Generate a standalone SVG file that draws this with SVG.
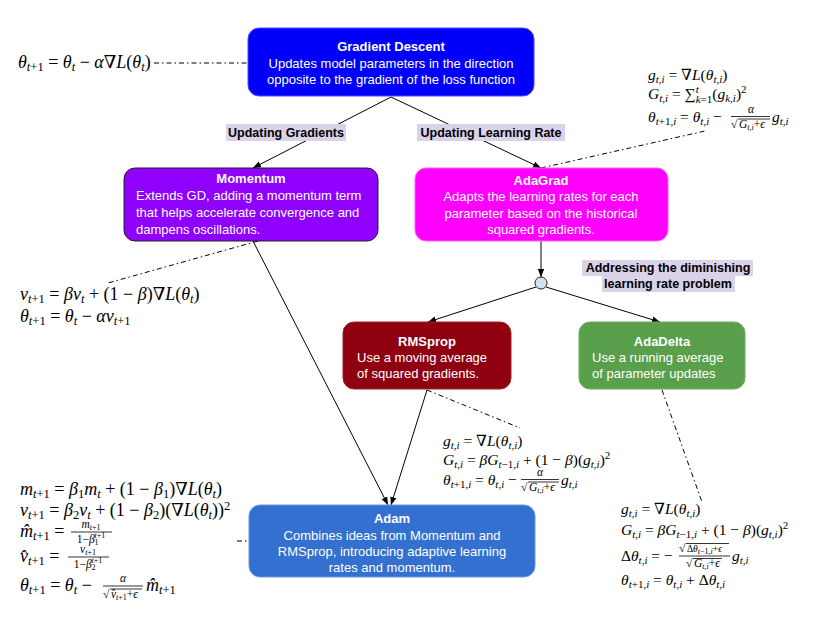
<svg xmlns="http://www.w3.org/2000/svg" width="825" height="631" viewBox="0 0 825 631">
<style>
.t{font-family:"Liberation Sans",Arial,sans-serif;font-size:13px;fill:#fff}
.b{font-weight:bold}
.lb{font-family:"Liberation Sans",Arial,sans-serif;font-size:12.5px;font-weight:bold;fill:#000}
.m{font-family:"Liberation Serif","DejaVu Serif",serif;font-size:18px;fill:#000}
.n{font-family:"Liberation Serif","DejaVu Serif",serif;font-size:15.5px;fill:#000}
.i{font-style:italic}
.s{font-size:12.5px}
.sn{font-size:11px}
.fr{font-family:"Liberation Serif","DejaVu Serif",serif;font-size:11.5px;fill:#000}
.fs{font-size:8px}
.cn{stroke:#000;stroke-width:1;fill:none}
.dd{stroke:#000;stroke-width:1;fill:none;stroke-dasharray:5 3 1.5 3}
.bar{stroke:#000;stroke-width:0.8}
</style>
<defs>
<marker id="ah" viewBox="0 0 10 10" refX="10" refY="5" markerWidth="8" markerHeight="8" markerUnits="userSpaceOnUse" orient="auto"><path d="M0,1 L10,5 L0,9 z" fill="#000"/></marker>
</defs>

<g id="connectors">
<line class="cn" x1="391" y1="97" x2="253" y2="168" marker-end="url(#ah)"/>
<line class="cn" x1="391" y1="97" x2="541" y2="168" marker-end="url(#ah)"/>
<line class="cn" x1="541" y1="241" x2="541" y2="277" marker-end="url(#ah)"/>
<line class="cn" x1="536" y1="287" x2="428" y2="322" marker-end="url(#ah)"/>
<line class="cn" x1="546" y1="287" x2="660" y2="322" marker-end="url(#ah)"/>
<line class="cn" x1="253" y1="241" x2="388" y2="505" marker-end="url(#ah)"/>
<line class="cn" x1="427" y1="390" x2="391" y2="505" marker-end="url(#ah)"/>
<line class="dd" x1="154" y1="63" x2="248" y2="63"/>
<line class="dd" x1="541" y1="168" x2="705" y2="131"/>
<line class="dd" x1="258" y1="241" x2="108" y2="283"/>
<line class="dd" x1="427" y1="390" x2="520" y2="428"/>
<line class="dd" x1="662" y1="390" x2="702" y2="502"/>
<line class="dd" x1="237" y1="541" x2="249" y2="541"/>
</g>

<g id="label-gradients">
<rect x="226" y="124" width="120" height="17" fill="#d9d2e9"/>
<text class="lb" x="286" y="137" text-anchor="middle">Updating Gradients</text>
</g>
<g id="label-lr">
<rect x="417" y="124" width="148" height="17" fill="#d9d2e9"/>
<text class="lb" x="491" y="137" text-anchor="middle">Updating Learning Rate</text>
</g>
<g id="label-dim">
<rect x="582" y="260" width="171" height="16" fill="#d9d2e9"/>
<rect x="602" y="276" width="133" height="16" fill="#d9d2e9"/>
<text class="lb" x="668" y="272" text-anchor="middle">Addressing the diminishing</text>
<text class="lb" x="668" y="288" text-anchor="middle">learning rate problem</text>
</g>

<g id="gradient-descent">
<rect x="248" y="28" width="286" height="68" rx="11" fill="#0000fa" stroke="#4a4aff"/>
<text class="t b" x="391" y="51" text-anchor="middle">Gradient Descent</text>
<text class="t" x="391" y="68" text-anchor="middle">Updates model parameters in the direction</text>
<text class="t" x="391" y="84" text-anchor="middle">opposite to the gradient of the loss function</text>
</g>

<g id="momentum">
<rect x="124" y="168" width="254" height="73" rx="11" fill="#8f00ff" stroke="#222"/>
<text class="t b" x="251" y="183" text-anchor="middle">Momentum</text>
<text class="t" x="136" y="200">Extends GD, adding a momentum term</text>
<text class="t" x="136" y="217">that helps accelerate convergence and</text>
<text class="t" x="136" y="234">dampens oscillations.</text>
</g>

<g id="adagrad">
<rect x="415" y="168" width="253" height="73" rx="11" fill="#ff00ff" stroke="#ff5cff"/>
<text class="t b" x="541" y="185" text-anchor="middle">AdaGrad</text>
<text class="t" x="541" y="201" text-anchor="middle">Adapts the learning rates for each</text>
<text class="t" x="541" y="218" text-anchor="middle">parameter based on the historical</text>
<text class="t" x="541" y="234" text-anchor="middle">squared gradients.</text>
</g>

<g id="junction">
<circle cx="541" cy="283" r="6" fill="#cfe2f3" stroke="#222"/>
</g>

<g id="rmsprop">
<rect x="343" y="322" width="168" height="67" rx="11" fill="#8f0011" stroke="#a0202a"/>
<text class="t b" x="427" y="346" text-anchor="middle">RMSprop</text>
<text class="t" x="357" y="362">Use a moving average</text>
<text class="t" x="357" y="378">of squared gradients.</text>
</g>

<g id="adadelta">
<rect x="579" y="322" width="166" height="67" rx="11" fill="#5a9f4b" stroke="#6bae5c"/>
<text class="t b" x="662" y="346" text-anchor="middle">AdaDelta</text>
<text class="t" x="592" y="362">Use a running average</text>
<text class="t" x="592" y="378">of parameter updates</text>
</g>

<g id="adam">
<rect x="249" y="505" width="286" height="72" rx="11" fill="#3370d0" stroke="#6d96dc"/>
<text class="t b" x="392" y="523" text-anchor="middle">Adam</text>
<text class="t" x="392" y="540" text-anchor="middle">Combines ideas from Momentum and</text>
<text class="t" x="392" y="556" text-anchor="middle">RMSprop, introducing adaptive learning</text>
<text class="t" x="392" y="572" text-anchor="middle">rates and momentum.</text>
</g>

<g id="formula-gd">
<text class="m" x="18" y="68"><tspan class="i">θ</tspan><tspan class="s" dy="3"><tspan class="i">t</tspan>+1</tspan><tspan dy="-3"> = </tspan><tspan class="i">θ</tspan><tspan class="s i" dy="3">t</tspan><tspan dy="-3"> − </tspan><tspan class="i">α</tspan><tspan>∇</tspan><tspan class="i">L</tspan><tspan>(</tspan><tspan class="i">θ</tspan><tspan class="s i" dy="3">t</tspan><tspan dy="-3">)</tspan></text>
</g>

<g id="formula-momentum">
<text class="m" x="20" y="300"><tspan class="i">v</tspan><tspan class="s" dy="3"><tspan class="i">t</tspan>+1</tspan><tspan dy="-3"> = </tspan><tspan class="i">βv</tspan><tspan class="s i" dy="3">t</tspan><tspan dy="-3"> + (1 − </tspan><tspan class="i">β</tspan><tspan>)∇</tspan><tspan class="i">L</tspan><tspan>(</tspan><tspan class="i">θ</tspan><tspan class="s i" dy="3">t</tspan><tspan dy="-3">)</tspan></text>
<text class="m" x="20" y="322"><tspan class="i">θ</tspan><tspan class="s" dy="3"><tspan class="i">t</tspan>+1</tspan><tspan dy="-3"> = </tspan><tspan class="i">θ</tspan><tspan class="s i" dy="3">t</tspan><tspan dy="-3"> − </tspan><tspan class="i">αv</tspan><tspan class="s" dy="3"><tspan class="i">t</tspan>+1</tspan></text>
</g>

<g id="formula-adagrad">
<text class="n" x="648" y="80"><tspan class="i">g</tspan><tspan class="sn i" dy="3">t,i</tspan><tspan dy="-3"> = ∇</tspan><tspan class="i">L</tspan><tspan>(</tspan><tspan class="i">θ</tspan><tspan class="sn i" dy="3">t,i</tspan><tspan dy="-3">)</tspan></text>
<text class="n" x="648" y="99"><tspan class="i">G</tspan><tspan class="sn i" dy="3">t,i</tspan><tspan dy="-3"> = ∑</tspan><tspan class="sn i" dy="-6">t</tspan><tspan class="sn" dx="-3" dy="10"><tspan class="i">k</tspan>=1</tspan><tspan dy="-4">(</tspan><tspan class="i">g</tspan><tspan class="sn i" dy="3">k,i</tspan><tspan dy="-3">)</tspan><tspan class="sn" dy="-6">2</tspan></text>
<text class="n" x="648" y="122"><tspan class="i">θ</tspan><tspan class="sn" dy="3"><tspan class="i">t</tspan>+1<tspan class="i">,i</tspan></tspan><tspan dy="-3"> = </tspan><tspan class="i">θ</tspan><tspan class="sn i" dy="3">t,i</tspan><tspan dy="-3"> −</tspan></text>
<text class="fr i" x="751" y="113" text-anchor="middle">α</text>
<line class="bar" x1="731" y1="116.5" x2="770" y2="116.5"/>
<text class="fr" x="731" y="128">√</text>
<line class="bar" x1="738" y1="119" x2="770" y2="119"/>
<text class="fr" x="739" y="128"><tspan class="i">G</tspan><tspan class="fs i" dy="2">t,i</tspan><tspan dy="-2">+</tspan><tspan class="i">ϵ</tspan></text>
<text class="n" x="772" y="122"><tspan class="i">g</tspan><tspan class="sn i" dy="3">t,i</tspan></text>
</g>

<g id="formula-rmsprop">
<text class="n" x="443" y="446"><tspan class="i">g</tspan><tspan class="sn i" dy="3">t,i</tspan><tspan dy="-3"> = ∇</tspan><tspan class="i">L</tspan><tspan>(</tspan><tspan class="i">θ</tspan><tspan class="sn i" dy="3">t,i</tspan><tspan dy="-3">)</tspan></text>
<text class="n" x="443" y="465"><tspan class="i">G</tspan><tspan class="sn i" dy="3">t,i</tspan><tspan dy="-3"> = </tspan><tspan class="i">βG</tspan><tspan class="sn" dy="3"><tspan class="i">t</tspan>−1<tspan class="i">,i</tspan></tspan><tspan dy="-3"> + (1 − </tspan><tspan class="i">β</tspan><tspan>)(</tspan><tspan class="i">g</tspan><tspan class="sn i" dy="3">t,i</tspan><tspan dy="-3">)</tspan><tspan class="sn" dy="-6">2</tspan></text>
<text class="n" x="443" y="485"><tspan class="i">θ</tspan><tspan class="sn" dy="3"><tspan class="i">t</tspan>+1<tspan class="i">,i</tspan></tspan><tspan dy="-3"> = </tspan><tspan class="i">θ</tspan><tspan class="sn i" dy="3">t,i</tspan><tspan dy="-3"> −</tspan></text>
<text class="fr i" x="540" y="476" text-anchor="middle">α</text>
<line class="bar" x1="521" y1="479.5" x2="559" y2="479.5"/>
<text class="fr" x="521" y="491">√</text>
<line class="bar" x1="528" y1="482" x2="559" y2="482"/>
<text class="fr" x="529" y="491"><tspan class="i">G</tspan><tspan class="fs i" dy="2">t,i</tspan><tspan dy="-2">+</tspan><tspan class="i">ϵ</tspan></text>
<text class="n" x="561" y="485"><tspan class="i">g</tspan><tspan class="sn i" dy="3">t,i</tspan></text>
</g>

<g id="formula-adadelta">
<text class="n" x="621" y="514"><tspan class="i">g</tspan><tspan class="sn i" dy="3">t,i</tspan><tspan dy="-3"> = ∇</tspan><tspan class="i">L</tspan><tspan>(</tspan><tspan class="i">θ</tspan><tspan class="sn i" dy="3">t,i</tspan><tspan dy="-3">)</tspan></text>
<text class="n" x="621" y="535"><tspan class="i">G</tspan><tspan class="sn i" dy="3">t,i</tspan><tspan dy="-3"> = </tspan><tspan class="i">βG</tspan><tspan class="sn" dy="3"><tspan class="i">t</tspan>−1<tspan class="i">,i</tspan></tspan><tspan dy="-3"> + (1 − </tspan><tspan class="i">β</tspan><tspan>)(</tspan><tspan class="i">g</tspan><tspan class="sn i" dy="3">t,i</tspan><tspan dy="-3">)</tspan><tspan class="sn" dy="-6">2</tspan></text>
<text class="n" x="621" y="561"><tspan>Δ</tspan><tspan class="i">θ</tspan><tspan class="sn i" dy="3">t,i</tspan><tspan dy="-3"> = −</tspan></text>
<text class="fr" x="679" y="552">√</text>
<line class="bar" x1="686" y1="543.5" x2="729" y2="543.5"/>
<text class="fr" x="687" y="552" style="font-size:9.5px">Δ<tspan class="i">θ</tspan><tspan class="fs" dy="2"><tspan class="i">t</tspan>−1<tspan class="i">,i</tspan></tspan><tspan dy="-2">+</tspan><tspan class="i">ϵ</tspan></text>
<line class="bar" x1="679" y1="556" x2="730" y2="556"/>
<text class="fr" x="686" y="567">√</text>
<line class="bar" x1="693" y1="558.5" x2="722" y2="558.5"/>
<text class="fr" x="694" y="567"><tspan class="i">G</tspan><tspan class="fs i" dy="2">t,i</tspan><tspan dy="-2">+</tspan><tspan class="i">ϵ</tspan></text>
<text class="n" x="732" y="561"><tspan class="i">g</tspan><tspan class="sn i" dy="3">t,i</tspan></text>
<text class="n" x="621" y="585"><tspan class="i">θ</tspan><tspan class="sn" dy="3"><tspan class="i">t</tspan>+1<tspan class="i">,i</tspan></tspan><tspan dy="-3"> = </tspan><tspan class="i">θ</tspan><tspan class="sn i" dy="3">t,i</tspan><tspan dy="-3"> + Δ</tspan><tspan class="i">θ</tspan><tspan class="sn i" dy="3">t,i</tspan></text>
</g>

<g id="formula-adam">
<text class="m" x="20" y="495"><tspan class="i">m</tspan><tspan class="s" dy="3"><tspan class="i">t</tspan>+1</tspan><tspan dy="-3"> = </tspan><tspan class="i">β</tspan><tspan class="s" dy="3">1</tspan><tspan class="i" dy="-3">m</tspan><tspan class="s i" dy="3">t</tspan><tspan dy="-3"> + (1 − </tspan><tspan class="i">β</tspan><tspan class="s" dy="3">1</tspan><tspan dy="-3">)∇</tspan><tspan class="i">L</tspan><tspan>(</tspan><tspan class="i">θ</tspan><tspan class="s i" dy="3">t</tspan><tspan dy="-3">)</tspan></text>
<text class="m" x="20" y="516"><tspan class="i">v</tspan><tspan class="s" dy="3"><tspan class="i">t</tspan>+1</tspan><tspan dy="-3"> = </tspan><tspan class="i">β</tspan><tspan class="s" dy="3">2</tspan><tspan class="i" dy="-3">v</tspan><tspan class="s i" dy="3">t</tspan><tspan dy="-3"> + (1 − </tspan><tspan class="i">β</tspan><tspan class="s" dy="3">2</tspan><tspan dy="-3">)(∇</tspan><tspan class="i">L</tspan><tspan>(</tspan><tspan class="i">θ</tspan><tspan class="s i" dy="3">t</tspan><tspan dy="-3">))</tspan><tspan class="s" dy="-6">2</tspan></text>
<text class="m" x="20" y="537"><tspan class="i">m̂</tspan><tspan class="s" dy="3"><tspan class="i">t</tspan>+1</tspan><tspan dy="-3"> =</tspan></text>
<text class="fr" x="91" y="528" text-anchor="middle"><tspan class="i">m</tspan><tspan class="fs" dy="2"><tspan class="i">t</tspan>+1</tspan></text>
<line class="bar" x1="71" y1="532" x2="112" y2="532"/>
<text class="fr" x="91" y="543" text-anchor="middle">1−<tspan class="i">β</tspan><tspan class="fs" dy="2">1</tspan><tspan class="fs" dx="-4" dy="-7"><tspan class="i">t</tspan>+1</tspan></text>
<text class="m" x="20" y="562"><tspan class="i">v̂</tspan><tspan class="s" dy="3"><tspan class="i">t</tspan>+1</tspan><tspan dy="-3"> =</tspan></text>
<text class="fr" x="88" y="553" text-anchor="middle"><tspan class="i">v</tspan><tspan class="fs" dy="2"><tspan class="i">t</tspan>+1</tspan></text>
<line class="bar" x1="68" y1="557" x2="109" y2="557"/>
<text class="fr" x="88" y="568" text-anchor="middle">1−<tspan class="i">β</tspan><tspan class="fs" dy="2">2</tspan><tspan class="fs" dx="-4" dy="-7"><tspan class="i">t</tspan>+1</tspan></text>
<text class="m" x="20" y="591"><tspan class="i">θ</tspan><tspan class="s" dy="3"><tspan class="i">t</tspan>+1</tspan><tspan dy="-3"> = </tspan><tspan class="i">θ</tspan><tspan class="s i" dy="3">t</tspan><tspan dy="-3"> −</tspan></text>
<text class="fr i" x="123" y="582" text-anchor="middle">α</text>
<line class="bar" x1="103" y1="586" x2="143" y2="586"/>
<text class="fr" x="103" y="598">√</text>
<line class="bar" x1="110" y1="589" x2="142" y2="589"/>
<text class="fr" x="111" y="598"><tspan class="i">v̂</tspan><tspan class="fs" dy="2"><tspan class="i">t</tspan>+1</tspan><tspan dy="-2">+</tspan><tspan class="i">ϵ</tspan></text>
<text class="m" x="146" y="591"><tspan class="i">m̂</tspan><tspan class="s" dy="3"><tspan class="i">t</tspan>+1</tspan></text>
</g>
</svg>
